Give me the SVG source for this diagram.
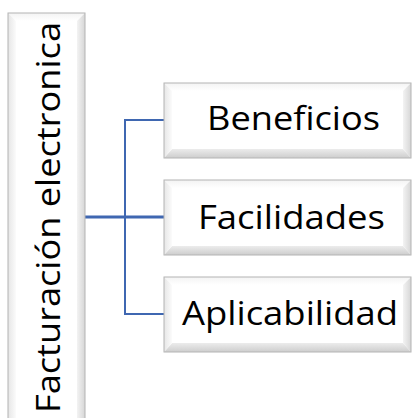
<svg xmlns="http://www.w3.org/2000/svg" width="412" height="418" viewBox="0 0 412 418">
<defs>
<style>
.face{fill:#ffffff;}
.edge{fill:none;stroke:#b4b4b4;stroke-width:1;}
.bt{fill:url(#gTop);}
.bb{fill:url(#gBot);}
.bl{fill:url(#gLeft);}
.br{fill:url(#gRight);}
.lbl{font-family:"Open Sans","Liberation Sans",sans-serif;font-size:33px;fill:#000000;}
.conn{fill:none;stroke:#3f67b1;stroke-width:2;}
.trunk{fill:none;stroke:#3f67b1;stroke-width:3;}
</style>
<linearGradient id="gTop" x1="0" y1="0" x2="0" y2="1"><stop offset="0" stop-color="#f3f3f3"/><stop offset="1" stop-color="#ffffff"/></linearGradient>
<linearGradient id="gBot" x1="0" y1="1" x2="0" y2="0"><stop offset="0" stop-color="#cdcdcd"/><stop offset="1" stop-color="#ececec"/></linearGradient>
<linearGradient id="gLeft" x1="0" y1="0" x2="1" y2="0"><stop offset="0" stop-color="#e6e6e6"/><stop offset="1" stop-color="#fbfbfb"/></linearGradient>
<linearGradient id="gRight" x1="1" y1="0" x2="0" y2="0"><stop offset="0" stop-color="#d6d6d6"/><stop offset="1" stop-color="#f3f3f3"/></linearGradient>
</defs>

<g id="connectors">
<line class="trunk" x1="85" y1="217" x2="164" y2="217"/>
<polyline class="conn" points="164,120 125,120 125,314 164,314"/>
</g>

<g id="node-facturacion">
<rect class="face" x="8" y="13" width="77" height="420"/>
<polygon class="bt" points="8,13 85,13 77,21 16,21"/>
<polygon class="bl" points="8,13 16,21 16,425 8,433"/>
<polygon class="br" points="85,13 77,21 77,425 85,433"/>
<rect class="edge" x="8" y="13" width="77" height="420"/>
<text class="lbl" transform="translate(60,217.5) rotate(-90)" x="0" y="0" text-anchor="middle" textLength="391" lengthAdjust="spacingAndGlyphs">Facturación electronica</text>
</g>

<g id="node-beneficios">
<rect class="face" x="164" y="83" width="247" height="75"/>
<polygon class="bt" points="164,83 411,83 403,91 172,91"/>
<polygon class="bb" points="164,158 411,158 403,149 172,149"/>
<polygon class="bl" points="164,83 172,91 172,149 164,158"/>
<polygon class="br" points="411,83 403,91 403,149 411,158"/>
<rect class="edge" x="164" y="83" width="247" height="75"/>
<text class="lbl" x="207" y="130" textLength="173" lengthAdjust="spacingAndGlyphs">Beneficios</text>
</g>

<g id="node-facilidades">
<rect class="face" x="164" y="180" width="247" height="75"/>
<polygon class="bt" points="164,180 411,180 403,188 172,188"/>
<polygon class="bb" points="164,255 411,255 403,246 172,246"/>
<polygon class="bl" points="164,180 172,188 172,246 164,255"/>
<polygon class="br" points="411,180 403,188 403,246 411,255"/>
<rect class="edge" x="164" y="180" width="247" height="75"/>
<text class="lbl" x="198" y="229" textLength="187" lengthAdjust="spacingAndGlyphs">Facilidades</text>
</g>

<g id="node-aplicabilidad">
<rect class="face" x="164" y="277" width="247" height="75"/>
<polygon class="bt" points="164,277 411,277 403,285 172,285"/>
<polygon class="bb" points="164,352 411,352 403,343 172,343"/>
<polygon class="bl" points="164,277 172,285 172,343 164,352"/>
<polygon class="br" points="411,277 403,285 403,343 411,352"/>
<rect class="edge" x="164" y="277" width="247" height="75"/>
<text class="lbl" x="182" y="325" textLength="216" lengthAdjust="spacingAndGlyphs">Aplicabilidad</text>
</g>
</svg>
